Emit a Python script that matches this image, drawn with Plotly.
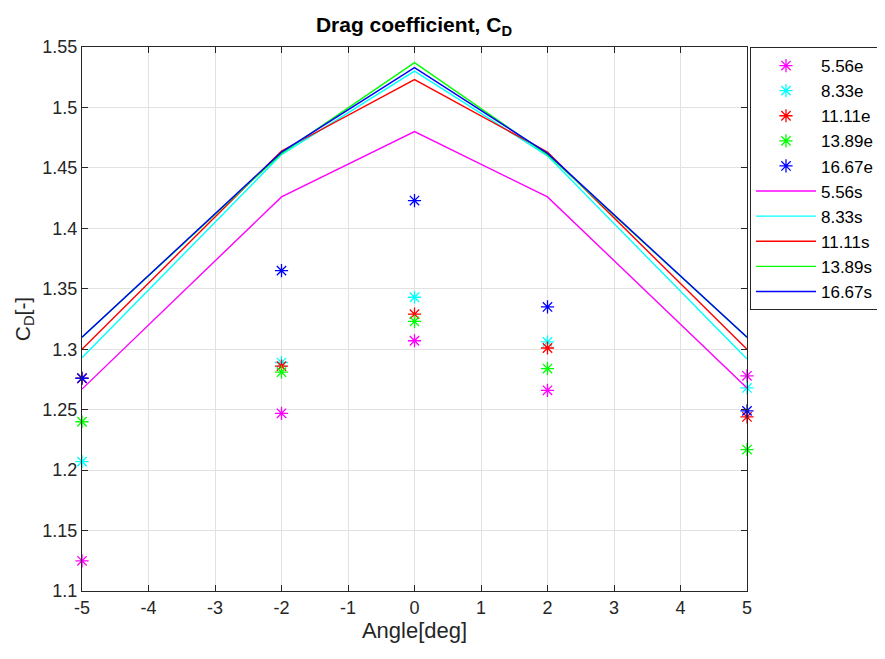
import plotly.graph_objects as go

angles = [-5, -2, 0, 2, 5]
names = ["5.56", "8.33", "11.11", "13.89", "16.67"]
colors = ["#ff00ff", "#00ffff", "#ff0000", "#00ff00", "#0000ff"]

exp_5_56 = [1.125, 1.247, 1.307, 1.266, 1.278]
exp_8_33 = [1.207, 1.289, 1.343, 1.306, 1.268]
exp_11_11 = [1.276, 1.286, 1.329, 1.301, 1.244]
exp_13_89 = [1.240, 1.281, 1.323, 1.284, 1.217]
exp_16_67 = [1.276, 1.365, 1.423, 1.335, 1.249]

sim_5_56 = [1.267, 1.426, 1.480, 1.426, 1.268]
sim_8_33 = [1.293, 1.461, 1.530, 1.460, 1.292]
sim_11_11 = [1.300, 1.464, 1.523, 1.463, 1.300]
sim_13_89 = [1.310, 1.462, 1.537, 1.461, 1.310]
sim_16_67 = [1.310, 1.463, 1.533, 1.462, 1.310]

exp_all = [exp_5_56, exp_8_33, exp_11_11, exp_13_89, exp_16_67]
sim_all = [sim_5_56, sim_8_33, sim_11_11, sim_13_89, sim_16_67]

x_ticks = [-5, -4, -3, -2, -1, 0, 1, 2, 3, 4, 5]
x_tick_labels = ["-5", "-4", "-3", "-2", "-1", "0", "1", "2", "3", "4", "5"]
y_ticks = [1.1, 1.15, 1.2, 1.25, 1.3, 1.35, 1.4, 1.45, 1.5, 1.55]
y_tick_labels = ["1.1", "1.15", "1.2", "1.25", "1.3", "1.35", "1.4", "1.45", "1.5", "1.55"]

FONT = "Liberation Sans, Arial, Helvetica"
TXT = "#262626"

fig = go.Figure()
for i, (n, c, vals) in enumerate(zip(names, colors, exp_all)):
    fig.add_trace(go.Scatter(
        x=angles, y=vals, mode="markers", name=n + "e", legendgroup="e%d" % i,
        marker=dict(symbol="asterisk-open", size=11, color=c,
                    line=dict(color=c, width=1.3)),
        cliponaxis=False,
    ))
for i, (n, c, vals) in enumerate(zip(names, colors, sim_all)):
    fig.add_trace(go.Scatter(
        x=angles, y=vals, mode="lines", name=n + "s", legendgroup="s%d" % i,
        line=dict(color=c, width=1.4),
    ))

axis_common = dict(
    showline=True, mirror="ticks", linecolor=TXT, linewidth=1,
    ticks="inside", ticklen=6, tickcolor=TXT,
    showgrid=True, gridcolor="#e2e2e2", gridwidth=1, zeroline=False,
    tickfont=dict(family=FONT, size=18, color=TXT),
)

fig.update_layout(
    width=885, height=659,
    paper_bgcolor="white", plot_bgcolor="white",
    margin=dict(l=74, r=146, t=39, b=76),
    title=dict(text="<b>Drag coefficient, C<sub>D</sub></b>", x=(414 - 8) / 885, xref="container",
               xanchor="center", y=1 - 9 / 659, yanchor="top",
               font=dict(family=FONT, size=21, color="#000000")),
    xaxis=dict(range=[-5, 5], tickvals=x_ticks, ticktext=x_tick_labels,
               title=dict(text="Angle[deg]", standoff=3,
                          font=dict(family=FONT, size=22, color=TXT)),
               **axis_common),
    yaxis=dict(range=[1.1, 1.55], tickvals=y_ticks, ticktext=y_tick_labels,
               title=dict(text="C<sub>D</sub>[-]", standoff=6,
                          font=dict(family=FONT, size=21, color=TXT)),
               **axis_common),
    legend=dict(x=1.0045, y=1.0, xanchor="left", yanchor="top",
                bordercolor=TXT, borderwidth=1, bgcolor="white",
                font=dict(family=FONT, size=17, color="#000000"),
                traceorder="grouped", tracegroupgap=0, itemwidth=60),
    showlegend=True,
)

fig.write_html("out.html")
